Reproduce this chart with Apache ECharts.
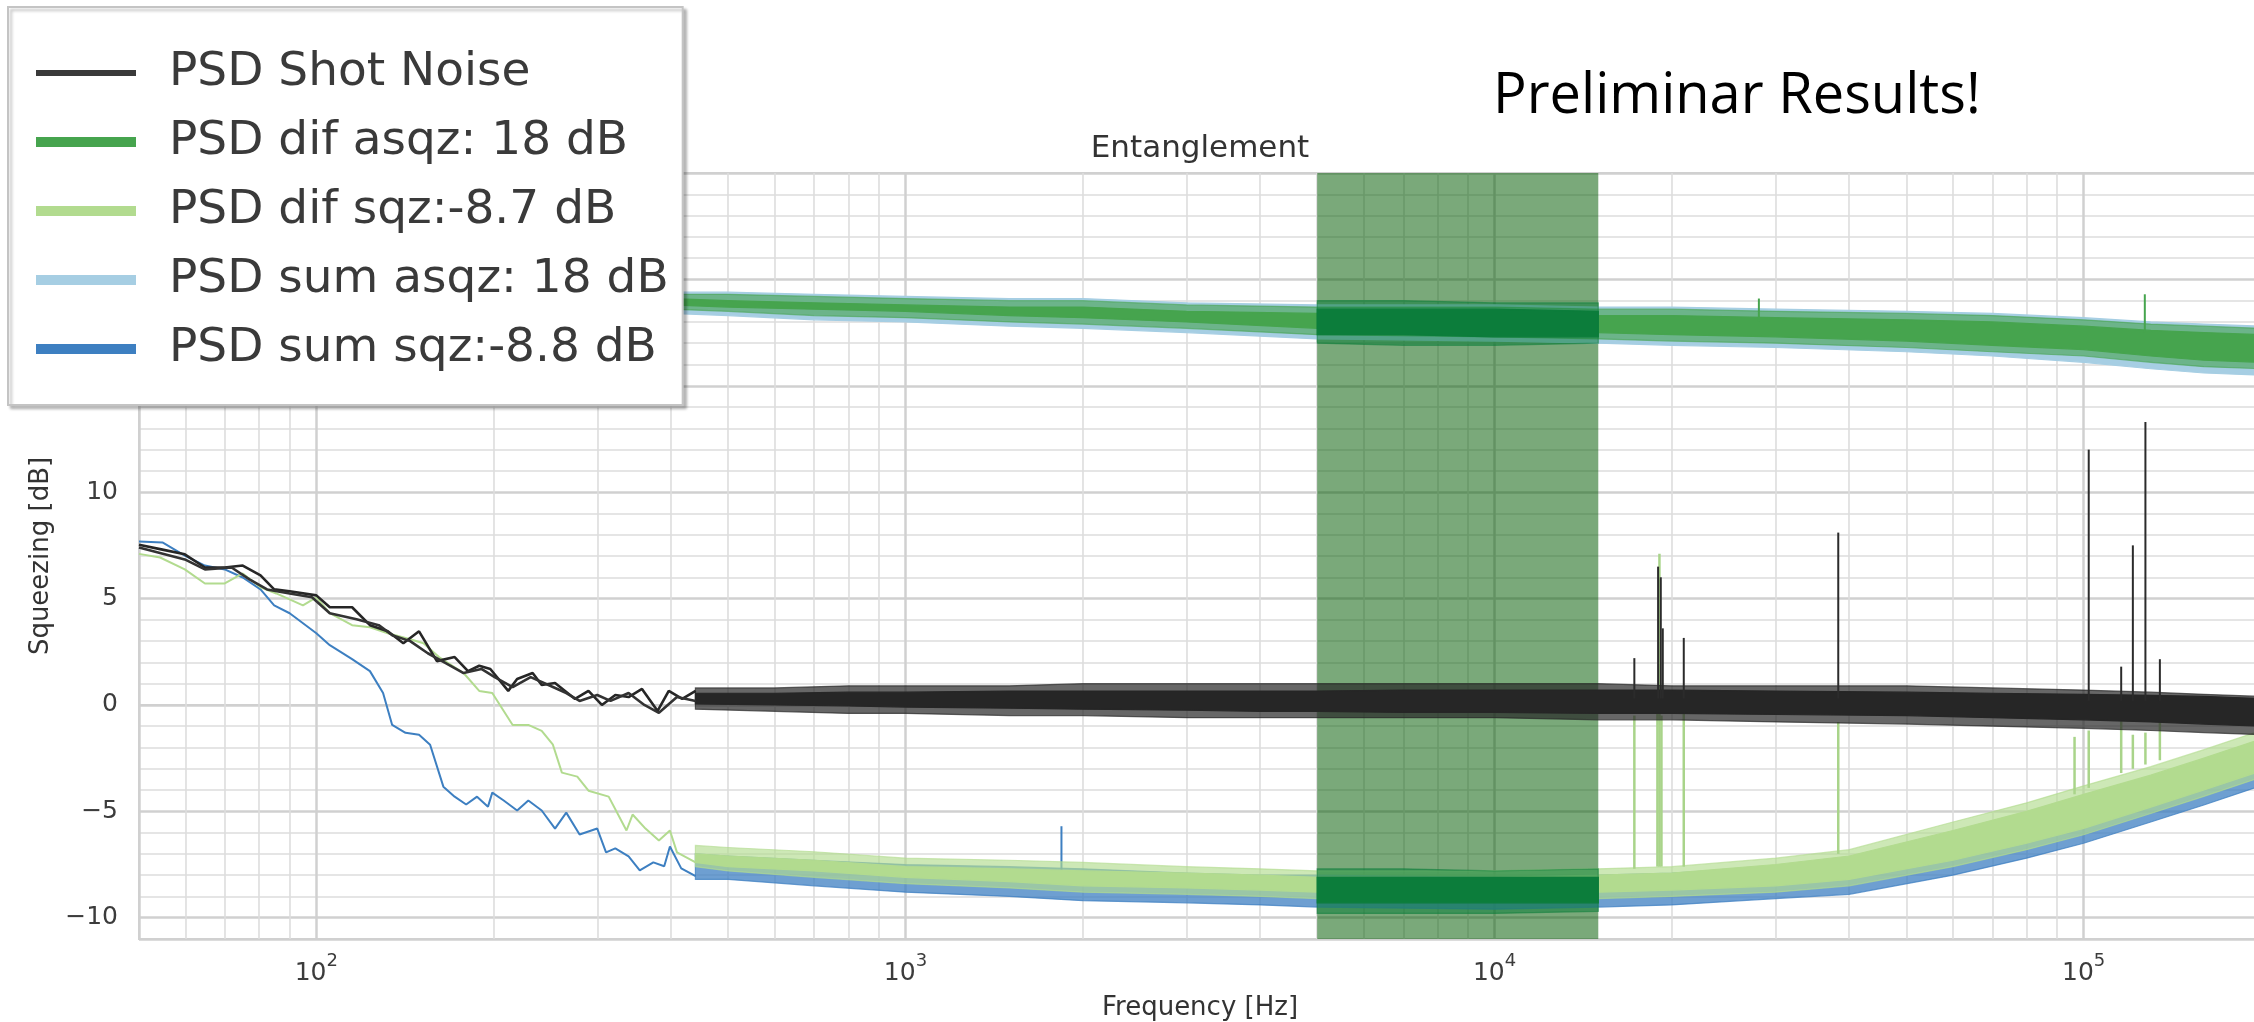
<!DOCTYPE html>
<html>
<head>
<meta charset="utf-8">
<title>Entanglement</title>
<script src="https://cdn.jsdelivr.net/npm/echarts@6/dist/echarts.min.js"></script>
<style>
  html, body { margin: 0; padding: 0; background: #fff; }
  #chart { width: 2254px; height: 1022px; }
</style>
</head>
<body>
<div id="chart"></div>
<script>
// values (frequency in Hz, level in dB)
const freqMin = 50, freqMax = 200000;
const yMin = -11, yMax = 25;
const bandEdges = [5000, 15000];

// low frequency part, two shot noise traces
const shotAFreq = [50.0, 54.8, 59.8, 64.7, 69.9, 75.0, 80.4, 84.8, 90.1, 100, 105.4, 115.0, 123.3, 132.2, 140.5, 149.4, 160.2, 171.7, 180.9, 189.0, 197.4, 211.7, 219.2, 232.9, 241.3, 254.2, 274.9, 289.7, 305.3, 321.7, 338.9, 357.1, 379.6, 396.5, 417.9, 440.4];
const shotADb = [7.53, 7.30, 7.08, 6.46, 6.46, 6.55, 6.09, 5.43, 5.34, 5.15, 4.59, 4.59, 3.75, 3.46, 2.90, 3.46, 2.06, 2.25, 1.59, 1.84, 1.69, 0.66, 1.22, 1.50, 0.94, 1.03, 0.28, 0.66, 0.00, 0.47, 0.37, 0.75, -0.28, 0.66, 0.28, 0.66];
const shotBFreq = [50.0, 59.8, 64.7, 71.8, 77.0, 82.5, 90.1, 98.3, 105.4, 117.0, 127.6, 134.5, 144.3, 154.6, 165.8, 177.8, 190.6, 200.8, 215.4, 231.1, 247.8, 265.6, 279.8, 299.8, 315.8, 338.9, 360.4, 381.5, 409.4, 440.4];
const shotBDb = [7.40, 6.84, 6.37, 6.46, 5.90, 5.43, 5.24, 5.06, 4.31, 4.03, 3.75, 3.28, 3.00, 2.43, 1.97, 1.50, 1.69, 1.31, 0.84, 1.31, 0.94, 0.56, 0.19, 0.47, 0.19, 0.56, 0.00, -0.37, 0.37, 0.19];

// low frequency part, dif sqz and sum sqz
const difSqzFreq = [50.0, 54.3, 59.8, 64.7, 69.9, 75.0, 80.4, 85.5, 94.9, 100, 105.4, 115.0, 123.3, 132.2, 144.3, 152.0, 161.5, 177.8, 189.0, 198.9, 215.4, 229.0, 241.3, 252.1, 261.1, 277.3, 289.7, 313.5, 336.1, 344.2, 362.0, 381.5, 398.3, 409.4, 440.4];
const difSqzDb = [7.10, 6.93, 6.37, 5.71, 5.71, 6.18, 5.53, 5.24, 4.68, 5.06, 4.31, 3.75, 3.65, 3.37, 3.09, 2.90, 2.25, 1.50, 0.66, 0.56, -0.94, -0.94, -1.22, -1.87, -3.18, -3.37, -4.03, -4.31, -5.90, -5.15, -5.81, -6.37, -5.90, -6.93, -7.40];
const sumSqzFreq = [50.0, 54.8, 59.8, 64.7, 69.9, 75.0, 80.4, 84.8, 90.1, 100, 105.4, 115.0, 123.3, 129.8, 134.5, 141.7, 149.4, 156.0, 164.3, 171.7, 179.6, 187.4, 195.6, 198.9, 208.0, 219.2, 229.0, 241.3, 254.2, 265.6, 279.8, 299.8, 310.3, 321.7, 338.9, 354.0, 373.3, 389.5, 398.3, 416.3, 440.4];
const sumSqzDb = [7.68, 7.64, 7.02, 6.55, 6.37, 5.99, 5.43, 4.68, 4.31, 3.37, 2.81, 2.15, 1.59, 0.56, -0.94, -1.31, -1.40, -1.87, -3.84, -4.31, -4.68, -4.31, -4.78, -4.12, -4.49, -4.96, -4.49, -4.96, -5.81, -5.06, -6.09, -5.81, -6.93, -6.74, -7.12, -7.77, -7.40, -7.58, -6.65, -7.68, -8.05];

// dense (noise) part: outer peaks and inner core of each trace
const shotBandFreq = [440, 600, 800, 1000, 1500, 2000, 3000, 4000, 5000, 7000, 10000, 15000, 20000, 30000, 50000, 70000, 100000, 130000, 160000, 200000];
const shotPeakHi = [0.8, 0.8, 0.9, 0.9, 0.9, 1.0, 1.0, 1.0, 1.0, 1.0, 1.0, 1.0, 0.9, 0.9, 0.9, 0.8, 0.7, 0.6, 0.5, 0.4];
const shotPeakLo = [-0.2, -0.3, -0.4, -0.4, -0.5, -0.5, -0.6, -0.6, -0.6, -0.6, -0.6, -0.7, -0.7, -0.8, -0.9, -1.0, -1.1, -1.2, -1.3, -1.4];
const shotCoreHi = [0.55, 0.55, 0.6, 0.6, 0.65, 0.65, 0.65, 0.65, 0.65, 0.7, 0.7, 0.7, 0.7, 0.65, 0.6, 0.55, 0.5, 0.45, 0.4, 0.3];
const shotCoreLo = [0.05, 0.0, -0.05, -0.1, -0.15, -0.2, -0.25, -0.3, -0.3, -0.35, -0.35, -0.4, -0.4, -0.45, -0.5, -0.6, -0.7, -0.8, -0.9, -1.0];

const sqzBandFreq = [440, 500, 700, 1000, 1500, 2000, 3000, 4000, 5000, 10000, 15000, 20000, 30000, 40000, 60000, 80000, 100000, 130000, 160000, 200000];
const difSqzPeakHi = [-6.6, -6.7, -6.9, -7.2, -7.3, -7.4, -7.6, -7.7, -7.8, -7.8, -7.7, -7.6, -7.2, -6.8, -5.5, -4.6, -3.8, -2.9, -2.1, -1.2];
const difSqzPeakLo = [-7.6, -7.8, -8.1, -8.4, -8.6, -8.8, -8.9, -9.0, -9.1, -9.2, -9.1, -9.0, -8.8, -8.5, -7.6, -6.8, -6.1, -5.1, -4.3, -3.4];
const difSqzCoreHi = [-7.0, -7.1, -7.3, -7.6, -7.7, -7.8, -7.9, -8.0, -8.1, -8.1, -8.0, -7.9, -7.5, -7.1, -5.9, -5.0, -4.2, -3.3, -2.5, -1.6];
const difSqzCoreLo = [-7.4, -7.6, -7.8, -8.1, -8.3, -8.5, -8.6, -8.7, -8.8, -8.9, -8.8, -8.7, -8.5, -8.2, -7.3, -6.5, -5.8, -4.8, -4.0, -3.1];
const sumSqzHi = [-7.0, -7.1, -7.3, -7.5, -7.6, -7.7, -7.9, -8.0, -8.0, -8.1, -8.0, -7.9, -7.6, -7.2, -6.0, -5.1, -4.3, -3.4, -2.6, -1.7];
const sumSqzLo = [-8.2, -8.2, -8.5, -8.8, -9.0, -9.2, -9.3, -9.4, -9.5, -9.6, -9.5, -9.4, -9.1, -8.9, -8.0, -7.2, -6.5, -5.5, -4.7, -3.8];

const asqzBandFreq = [400, 500, 700, 1000, 1500, 2000, 3000, 5000, 10000, 15000, 20000, 30000, 50000, 70000, 100000, 130000, 160000, 200000];
const difAsqzPeakHi = [19.3, 19.3, 19.2, 19.1, 19.0, 19.0, 18.8, 18.7, 18.7, 18.6, 18.6, 18.5, 18.4, 18.3, 18.1, 17.9, 17.8, 17.7];
const difAsqzPeakLo = [18.6, 18.5, 18.3, 18.2, 18.0, 17.9, 17.7, 17.4, 17.3, 17.2, 17.1, 17.0, 16.8, 16.6, 16.4, 16.1, 15.9, 15.8];
const difAsqzCoreHi = [19.1, 19.0, 18.9, 18.8, 18.7, 18.7, 18.5, 18.4, 18.4, 18.3, 18.3, 18.2, 18.1, 18.0, 17.8, 17.6, 17.5, 17.4];
const difAsqzCoreLo = [18.8, 18.7, 18.6, 18.5, 18.3, 18.2, 18.0, 17.7, 17.6, 17.5, 17.4, 17.3, 17.1, 16.9, 16.7, 16.4, 16.2, 16.1];
const sumAsqzHi = [19.4, 19.4, 19.3, 19.2, 19.1, 19.1, 18.9, 18.8, 18.8, 18.7, 18.7, 18.6, 18.5, 18.4, 18.2, 18.0, 17.9, 17.8];
const sumAsqzLo = [18.4, 18.3, 18.1, 18.0, 17.8, 17.7, 17.5, 17.2, 17.1, 17.0, 16.9, 16.8, 16.6, 16.4, 16.1, 15.8, 15.6, 15.5];

// data inside the 5-15 kHz window (drawn dark green)
const inBandFreq = [5000, 7000, 10000, 15000];
const inAsqzPeakHi = [19.0, 19.0, 18.9, 18.9];
const inAsqzPeakLo = [17.0, 16.9, 16.9, 17.0];
const inAsqzCoreHi = [18.6, 18.6, 18.6, 18.5];
const inAsqzCoreLo = [17.4, 17.4, 17.3, 17.3];
const inSqzPeakHi = [-7.7, -7.7, -7.8, -7.7];
const inSqzPeakLo = [-9.8, -9.8, -9.8, -9.7];
const inSqzCoreHi = [-8.1, -8.1, -8.1, -8.1];
const inSqzCoreLo = [-9.3, -9.3, -9.3, -9.3];

// narrow peaks
const shotSpikeFreq = [17270, 18950, 19150, 19300, 20950, 38320, 102000, 115800, 121200, 127300, 134700];
const shotSpikeBase = [0.3, 0.3, 0.3, 0.3, 0.3, 0.3, 0.2, 0.2, 0.2, 0.2, 0.2];
const shotSpikeTop = [2.2, 6.5, 6.0, 3.6, 3.15, 8.1, 12.0, 1.8, 7.5, 13.3, 2.15];
const sqzSpikeFreq = [17270, 18900, 19050, 19200, 20950, 38320, 96500, 102000, 115800, 121200, 127300, 134700];
const sqzSpikeBase = [-7.7, -7.6, -7.6, -7.6, -7.6, -7.0, -4.2, -3.9, -3.2, -3.0, -2.8, -2.6];
const sqzSpikeTop = [-0.5, -0.4, 7.1, -0.5, -0.3, -0.8, -1.5, -1.2, -0.2, -1.4, -1.3, -0.8];
const sumSpikeFreq = [1840];
const sumSpikeBase = [-8.0];
const sumSpikeTop = [-5.7];
const asqzSpikeFreq = [28100, 127000];
const asqzSpikeBase = [18.0, 17.5];
const asqzSpikeTop = [19.1, 19.3];

const names = ['PSD Shot Noise', 'PSD dif asqz: 18 dB', 'PSD dif sqz:-8.7 dB', 'PSD sum asqz: 18 dB', 'PSD sum sqz:-8.8 dB'];
const colors = ['#262626', '#46a44e', '#b2db8f', '#a6cee3', '#3d7fc1'];
const inBandColor = '#0c7d3b';

// minor vertical grid lines (2..9 x each decade)
const minorFreqs = [];
for (let d = 10; d <= 100000; d *= 10) {
  for (let k = 2; k <= 9; k++) {
    if (k * d > freqMin && k * d < freqMax) minorFreqs.push(k * d);
  }
}

const font = 'DejaVu Sans';

function pairs(xs, ys) {
  return xs.map((x, i) => [x, ys[i]]);
}

function lineSeries(name, xs, ys, color, width, z) {
  return {
    type: 'line', name: name, z: z, data: pairs(xs, ys),
    showSymbol: false, symbol: 'none', silent: true, animation: false,
    lineStyle: { color: color, width: width }, itemStyle: { color: color }
  };
}

// filled band between lower and upper edges, placed via the axes
function bandSeries(name, xs, lo, hi, color, z, opacity) {
  return {
    type: 'custom', name: name, z: z, silent: true, animation: false,
    itemStyle: { color: color },
    data: [[xs[0], lo[0]]],
    renderItem: function (params, api) {
      const pts = [];
      for (let i = 0; i < xs.length; i++) pts.push(api.coord([xs[i], hi[i]]));
      for (let i = xs.length - 1; i >= 0; i--) pts.push(api.coord([xs[i], lo[i]]));
      return {
        type: 'polygon', shape: { points: pts },
        style: { fill: color, stroke: color, lineWidth: 1.2, opacity: opacity == null ? 1 : opacity }
      };
    }
  };
}

function spikeSeries(name, xs, base, top, color, width, z) {
  return {
    type: 'custom', name: name, z: z, silent: true, animation: false,
    itemStyle: { color: color },
    data: xs.map((x, i) => [x, base[i], top[i]]),
    encode: { x: 0, y: [1, 2] },
    renderItem: function (params, api) {
      const a = api.coord([api.value(0), api.value(1)]);
      const b = api.coord([api.value(0), api.value(2)]);
      return {
        type: 'line', shape: { x1: a[0], y1: a[1], x2: b[0], y2: b[1] },
        style: { stroke: color, lineWidth: width }
      };
    }
  };
}

const iconThick = 'path://M0,0M128,20M0,5L100,5L100,15L0,15Z';
const iconThin = 'path://M0,0M128,20M0,7L100,7L100,13L0,13Z';

const chart = echarts.init(document.getElementById('chart'), null, { renderer: 'canvas' });

const option = {
  backgroundColor: '#ffffff',
  animation: false,
  title: [
    {
      text: 'Entanglement', left: 1200, top: 133, textAlign: 'center', padding: 0,
      textStyle: { fontFamily: font, fontSize: 31, fontWeight: 'normal', color: '#333333' }
    },
    {
      text: 'Preliminar Results!', left: 1493, top: 69, padding: 0,
      textStyle: { fontFamily: 'Open Sans', fontSize: 56, fontWeight: 'normal', color: '#000000' }
    }
  ],
  legend: {
    orient: 'vertical', left: 8, top: 7, z: 20,
    padding: [40, 14, 30, 28],
    itemWidth: 128, itemHeight: 20, itemGap: 17,
    selectedMode: false,
    backgroundColor: '#ffffff', borderColor: '#c4c4c4', borderWidth: 2,
    shadowColor: 'rgba(0,0,0,0.25)', shadowBlur: 3, shadowOffsetX: 3, shadowOffsetY: 3,
    itemStyle: { borderWidth: 0 },
    textStyle: { fontFamily: font, fontSize: 47, color: '#3a3a3a', lineHeight: 52 },
    data: names.map((n, i) => ({
      name: n, icon: i === 0 ? iconThin : iconThick,
      itemStyle: { color: i === 0 ? '#3a3a3a' : colors[i], borderWidth: 0 }
    }))
  },
  grid: {
    left: 139, top: 173, right: -7, bottom: 83,
    containLabel: false, outerBoundsMode: 'none',
    show: true, borderColor: '#d0d0d0', borderWidth: 2, backgroundColor: 'transparent'
  },
  xAxis: {
    type: 'log', logBase: 10, min: freqMin, max: freqMax,
    name: 'Frequency [Hz]', nameLocation: 'middle', nameGap: 56,
    nameTextStyle: { fontFamily: font, fontSize: 26, color: '#333333' },
    axisLine: { show: true, lineStyle: { color: '#d0d0d0', width: 2 } },
    axisTick: { show: false },
    axisLabel: {
      showMinLabel: false, showMaxLabel: false, margin: 13,
      formatter: function (v) { return '{b|10}{s|' + Math.round(Math.log10(v)) + '}'; },
      rich: {
        b: { fontFamily: font, fontSize: 25, color: '#3c3c3c', lineHeight: 34, verticalAlign: 'bottom' },
        s: { fontFamily: font, fontSize: 18, color: '#3c3c3c', lineHeight: 34, verticalAlign: 'top' }
      }
    },
    splitLine: { show: true, lineStyle: { color: '#d0d0d0', width: 2.5 } },
    minorTick: { show: false },
    minorSplitLine: { show: false }
  },
  yAxis: {
    type: 'value', min: yMin, max: yMax, splitNumber: 7,
    name: 'Squeezing [dB]', nameLocation: 'middle', nameGap: 82,
    nameTextStyle: { fontFamily: font, fontSize: 26, color: '#333333' },
    axisLine: { show: true, lineStyle: { color: '#d0d0d0', width: 2 } },
    axisTick: { show: false },
    axisLabel: {
      showMinLabel: false, margin: 21,
      fontFamily: font, fontSize: 25, color: '#3c3c3c',
      formatter: function (v) { return v < 0 ? '\u2212' + (-v) : String(v); }
    },
    splitLine: { show: true, lineStyle: { color: '#d0d0d0', width: 2.5 } },
    minorTick: { show: false, splitNumber: 5 },
    minorSplitLine: { show: true, lineStyle: { color: '#dddddd', width: 1.6 } }
  },
  series: [
    // minor vertical grid
    {
      type: 'line', name: 'minor grid', z: 1, data: [], silent: true, animation: false,
      markLine: {
        z: 1, silent: true, symbol: ['none', 'none'], animation: false,
        label: { show: false },
        lineStyle: { color: '#dddddd', width: 1.6, type: 'solid' },
        data: minorFreqs.map(f => ({ xAxis: f }))
      }
    },
    // 5-15 kHz window
    {
      type: 'line', name: 'window', z: 2, data: [], silent: true, animation: false,
      markArea: {
        z: 2, silent: true, animation: false, label: { show: false },
        itemStyle: { color: 'rgba(0,90,0,0.52)' },
        data: [[{ xAxis: bandEdges[0] }, { xAxis: bandEdges[1] }]]
      }
    },
    bandSeries(names[3], asqzBandFreq, sumAsqzLo, sumAsqzHi, colors[3], 3),
    bandSeries(names[1], asqzBandFreq, difAsqzPeakLo, difAsqzPeakHi, colors[1], 4, 0.6),
    bandSeries(names[1], asqzBandFreq, difAsqzCoreLo, difAsqzCoreHi, colors[1], 4),
    spikeSeries(names[1], asqzSpikeFreq, asqzSpikeBase, asqzSpikeTop, colors[1], 2, 4),
    bandSeries(names[4], sqzBandFreq, sumSqzLo, sumSqzHi, colors[4], 5, 0.75),
    spikeSeries(names[4], sumSpikeFreq, sumSpikeBase, sumSpikeTop, colors[4], 2, 5),
    lineSeries(names[4], sumSqzFreq, sumSqzDb, colors[4], 2, 5),
    bandSeries(names[2], sqzBandFreq, difSqzPeakLo, difSqzPeakHi, colors[2], 6, 0.65),
    bandSeries(names[2], sqzBandFreq, difSqzCoreLo, difSqzCoreHi, colors[2], 6),
    spikeSeries(names[2], sqzSpikeFreq, sqzSpikeBase, sqzSpikeTop, '#a9d48a', 2.5, 6),
    lineSeries(names[2], difSqzFreq, difSqzDb, colors[2], 2, 6),
    bandSeries('in band', inBandFreq, inAsqzPeakLo, inAsqzPeakHi, inBandColor, 7, 0.55),
    bandSeries('in band', inBandFreq, inAsqzCoreLo, inAsqzCoreHi, inBandColor, 7),
    bandSeries('in band', inBandFreq, inSqzPeakLo, inSqzPeakHi, inBandColor, 7, 0.55),
    bandSeries('in band', inBandFreq, inSqzCoreLo, inSqzCoreHi, inBandColor, 7),
    bandSeries(names[0], shotBandFreq, shotPeakLo, shotPeakHi, colors[0], 8, 0.7),
    bandSeries(names[0], shotBandFreq, shotCoreLo, shotCoreHi, colors[0], 8),
    spikeSeries(names[0], shotSpikeFreq, shotSpikeBase, shotSpikeTop, '#2b2b2b', 2, 8),
    lineSeries(names[0], shotAFreq, shotADb, colors[0], 2.6, 8),
    lineSeries(names[0], shotBFreq, shotBDb, '#333333', 2.6, 8)
  ]
};

chart.setOption(option);
</script>
</body>
</html>
